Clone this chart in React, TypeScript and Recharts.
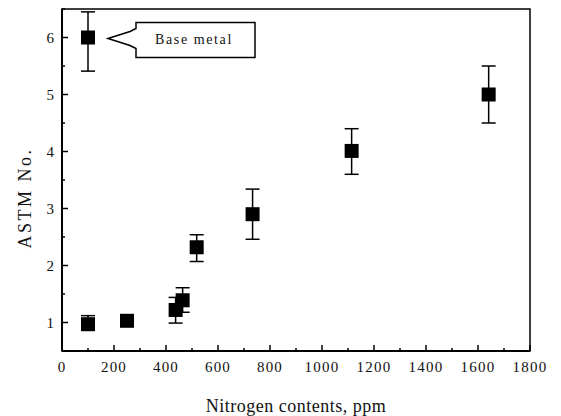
import React from 'react';
import {
    ScatterChart, Scatter, XAxis, YAxis, ErrorBar,
    ReferenceArea, ReferenceDot
} from 'recharts';

// nitrogen content (ppm) and ASTM grain size number
const nitrogen = [100, 100, 250, 437, 464, 518, 733, 1114, 1641];
const astm = [6.0, 0.97, 1.03, 1.22, 1.39, 2.32, 2.9, 4.01, 5.0];
const astmLow = [5.41, 0.88, 0.96, 0.99, 1.18, 2.07, 2.46, 3.6, 4.5];
const astmHigh = [6.45, 1.12, 1.08, 1.44, 1.61, 2.54, 3.34, 4.4, 5.5];

const xTicks = [0, 100, 200, 300, 400, 500, 600, 700, 800, 900, 1000, 1100, 1200, 1300, 1400, 1500, 1600, 1700, 1800];
const yTicks = [0.5, 1, 1.5, 2, 2.5, 3, 3.5, 4, 4.5, 5, 5.5, 6, 6.5];

const annotation = { x: 100, y: 6, text: 'Base metal' };

const data = nitrogen.map((n, i) => ({
    x: n,
    y: astm[i],
    err: [astm[i] - astmLow[i], astmHigh[i] - astm[i]],
}));

const FONT = '"Liberation Serif", "Times New Roman", serif';

const XTick = (props: any) => {
    const { x, y, payload } = props;
    const v = payload.value;
    const major = v % 200 === 0;
    return (
        <g>
            <line x1={x} x2={x} y1={y} y2={y - (major ? 6 : 3)} stroke="#000" strokeWidth={1.5} />
            {major &&
                <text x={x} y={y + 21} textAnchor="middle" fontFamily={FONT} fontSize={15}
                    letterSpacing={1.2} fill="#111">{v}</text>}
        </g>
    );
};

const YTick = (props: any) => {
    const { x, y, payload } = props;
    const v = payload.value;
    const major = Number.isInteger(v);
    return (
        <g>
            <line x1={x} x2={x + (major ? 6 : 3)} y1={y} y2={y} stroke="#000" strokeWidth={1.5} />
            {major && v >= 1 && v <= 6 &&
                <text x={x - 8} y={y + 5.5} textAnchor="end" fontFamily={FONT} fontSize={15}
                    fill="#111">{v}</text>}
        </g>
    );
};

const Square = (props: any) => {
    const { cx, cy } = props;
    return <rect x={cx - 7} y={cy - 7} width={14} height={14} fill="#000" />;
};

const Callout = (props: any) => {
    const { cx, cy } = props;
    const l = cx + 48;
    const r = cx + 167;
    const t = cy - 15;
    const b = cy + 20;
    const d = `M${cx + 20},${cy + 1} L${cx + 42},${cy - 6} L${l},${cy - 9} L${l},${t} L${r},${t} ` +
        `L${r},${b} L${l},${b} L${l},${cy + 11} L${cx + 42},${cy + 8} Z`;
    return (
        <g>
            <path d={d} fill="#fff" stroke="#000" strokeWidth={1.5} />
            <text x={cx + 106} y={cy + 6} textAnchor="middle" fontFamily={FONT} fontSize={14}
                letterSpacing={1.6} fill="#111">{annotation.text}</text>
        </g>
    );
};

export default function App() {
    return (
        <div style={{ position: 'absolute', left: 0, top: 0, width: 561, height: 416, background: '#fff' }}>
            <ScatterChart width={561} height={416} margin={{ top: 9, right: 31, left: 0, bottom: 0 }}>
                <XAxis type="number" dataKey="x" domain={[0, 1800]} ticks={xTicks} interval={0}
                    height={65} tickSize={0} tickMargin={0} tickLine={false} tick={<XTick />}
                    axisLine={{ stroke: '#000', strokeWidth: 2 }} allowDataOverflow />
                <YAxis type="number" dataKey="y" domain={[0.5, 6.5]} ticks={yTicks} interval={0}
                    width={62} tickSize={0} tickMargin={0} tickLine={false} tick={<YTick />}
                    axisLine={{ stroke: '#000', strokeWidth: 2 }} allowDataOverflow />
                <ReferenceArea x1={0} x2={1800} y1={0.5} y2={6.5} fill="none"
                    stroke="#000" strokeWidth={1.5} />
                <Scatter data={data} shape={<Square />} isAnimationActive={false}>
                    <ErrorBar dataKey="err" direction="y" width={7} stroke="#000"
                        strokeWidth={1.5} isAnimationActive={false} />
                </Scatter>
                <ReferenceDot x={annotation.x} y={annotation.y} r={0} shape={<Callout />} />
            </ScatterChart>
            <div style={{
                position: 'absolute', left: 25, top: 198, transform: 'translate(-50%, -50%) rotate(-90deg)',
                fontFamily: FONT, fontSize: 18, letterSpacing: 2.5, color: '#111', whiteSpace: 'nowrap'
            }}>ASTM No.</div>
            <div style={{
                position: 'absolute', left: 296, top: 397, transform: 'translateX(-50%)',
                fontFamily: FONT, fontSize: 18, letterSpacing: 0.5, color: '#111', whiteSpace: 'nowrap',
                lineHeight: '18px'
            }}>Nitrogen contents, ppm</div>
        </div>
    );
}
